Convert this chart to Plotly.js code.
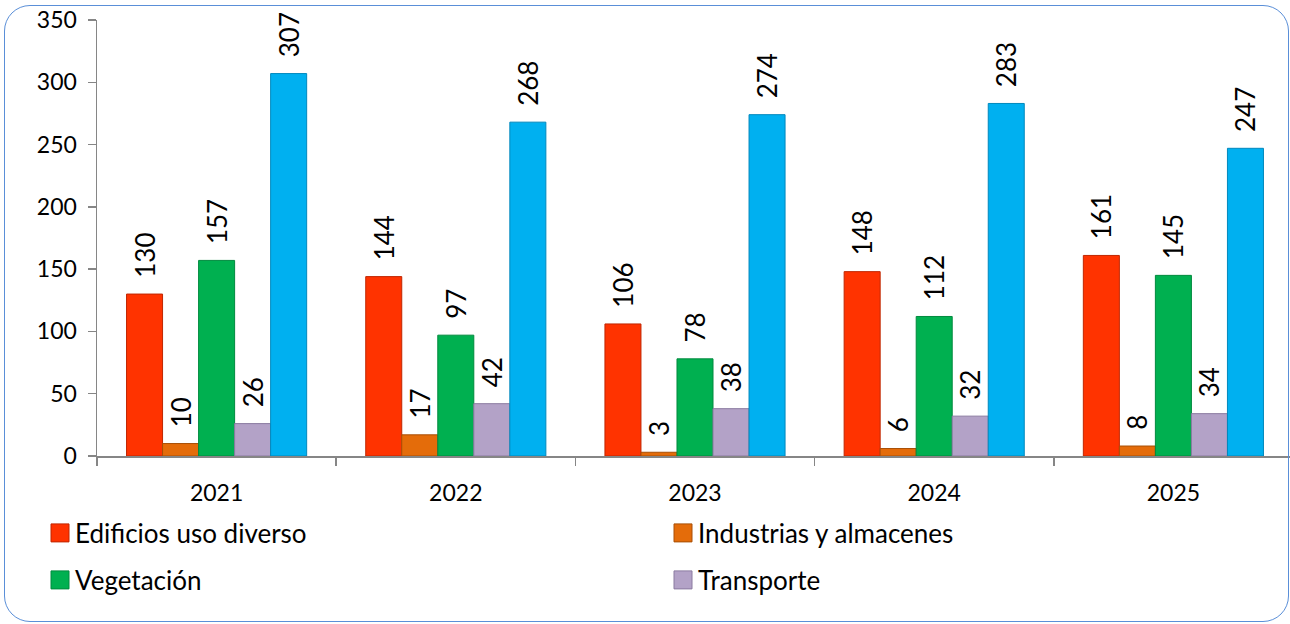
<!DOCTYPE html>
<html>
<head>
<meta charset="utf-8">
<script src="https://cdn.plot.ly/plotly-3.0.1.min.js"></script>
<style>
  html, body { margin: 0; padding: 0; width: 1290px; height: 624px; overflow: hidden; background: #ffffff; }
  #frame { position: absolute; left: 4px; top: 5px; width: 1283px; height: 615px; border: 1.5px solid #5a8fd8; border-radius: 26px; pointer-events: none; z-index: 5; }
  #chart { position: absolute; left: 0; top: 0; width: 1293px; height: 624px; }
</style>
</head>
<body>
<div id="chart"></div>
<div id="frame"></div>
<script>
const years = ["2021", "2022", "2023", "2024", "2025"];
const edificios = [130, 144, 106, 148, 161];
const industrias = [10, 17, 3, 6, 8];
const vegetacion = [157, 97, 78, 112, 145];
const transporte = [26, 42, 38, 32, 34];
const otros = [307, 268, 274, 283, 247];

const seriesNames = ["Edificios uso diverso", "Industrias y almacenes", "Vegetación", "Transporte", "Otros"];
const seriesValues = [edificios, industrias, vegetacion, transporte, otros];
const fills = ["#ff3300", "#e46c0a", "#00b050", "#b3a2c7", "#00b0f0"];
const edges = ["#c02600", "#a94f06", "#008a3e", "#8a7aa0", "#0088bd"];
const legendIds = ["legend", "legend2", "legend3", "legend4", null];

const FONT = "Lato, 'Open Sans', sans-serif";

const traces = seriesNames.map((name, i) => ({
  type: "bar",
  name: name,
  x: years,
  y: seriesValues[i],
  text: seriesValues[i].map(v => "\u00a0\u00a0" + v),
  textposition: "outside",
  textangle: -90,
  constraintext: "none",
  cliponaxis: false,
  textfont: { family: FONT, size: 26, color: "#000000" },
  marker: { color: fills[i], line: { color: edges[i], width: 1 } },
  showlegend: legendIds[i] !== null,
  legend: legendIds[i] || "legend",
  hoverinfo: "x+y+name"
}));

function mkLegend(x, y) {
  return {
    orientation: "v",
    xref: "container",
    yref: "container",
    xanchor: "left",
    yanchor: "middle",
    x: x / 1293,
    y: 1 - y / 624,
    itemwidth: 30,
    font: { family: FONT, size: 26, color: "#000000" },
    bgcolor: "rgba(0,0,0,0)",
    borderwidth: 0
  };
}

const layout = {
  width: 1293,
  height: 624,
  margin: { l: 97, r: 0, t: 20, b: 168, autoexpand: false },
  paper_bgcolor: "#ffffff",
  plot_bgcolor: "#ffffff",
  bargap: 0.247,
  bargroupgap: 0,
  barmode: "group",
  font: { family: FONT, color: "#000000" },
  xaxis: {
    type: "category",
    showline: true,
    linecolor: "#868686",
    linewidth: 1.5,
    ticks: "outside",
    tickson: "boundaries",
    ticklen: 8,
    tickcolor: "#868686",
    tickwidth: 1.5,
    showgrid: false,
    zeroline: false,
    ticklabelstandoff: 16,
    tickfont: { family: FONT, size: 23, color: "#000000" }
  },
  yaxis: {
    range: [0, 350],
    dtick: 50,
    showline: true,
    linecolor: "#868686",
    linewidth: 1.5,
    ticks: "outside",
    ticklen: 8,
    tickcolor: "#868686",
    tickwidth: 1.5,
    showgrid: false,
    zeroline: false,
    ticklabelstandoff: 6,
    tickfont: { family: FONT, size: 23, color: "#000000" }
  },
  legend: mkLegend(35, 533),
  legend2: mkLegend(658, 533),
  legend3: mkLegend(35, 580),
  legend4: mkLegend(658, 580)
};

Plotly.newPlot("chart", traces, layout, { displayModeBar: false, staticPlot: true }).then(gd => {
  document.querySelectorAll(".legendpoints path").forEach(p => {
    p.setAttribute("d", "M14,9H-4V-9H14Z");
  });
});
</script>
</body>
</html>
